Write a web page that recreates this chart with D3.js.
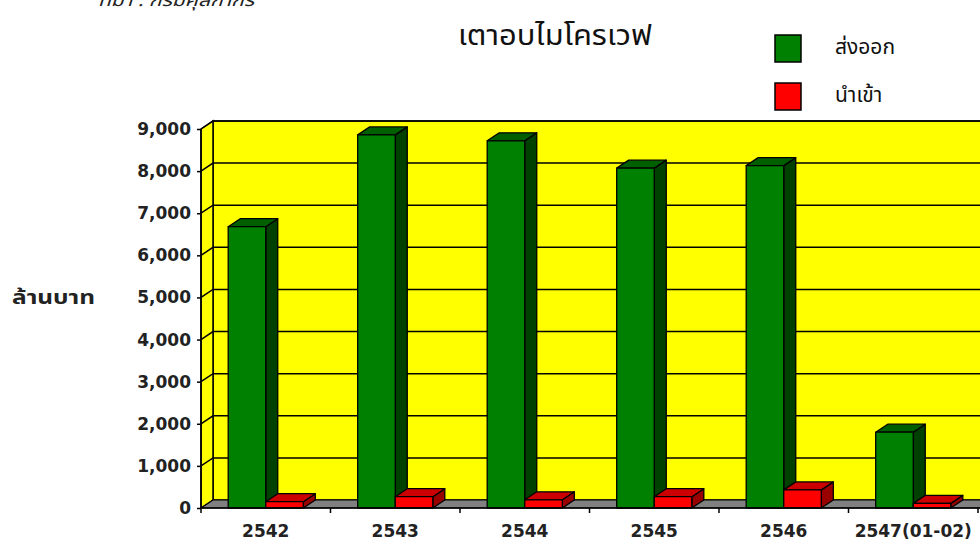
<!DOCTYPE html>
<html>
<head>
    <meta charset="UTF-8">
    <title>เตาอบไมโครเวฟ</title>
    <style>
      body { margin: 0; background: #fff; }
      svg { display: block; }
      .thai { font-family: "Noto Sans Thai", "Noto Sans", "DejaVu Sans", sans-serif; }
      .num { font-family: "DejaVu Sans", Verdana, sans-serif; font-weight: bold; }
    </style>
    <script src="https://cdn.jsdelivr.net/npm/d3@7"></script>
</head>
<body>
<svg id="chart" width="980" height="540"></svg>
<script type="text/javascript">
   // data (ล้านบาท)
   var categories = ["2542", "2543", "2544", "2545", "2546", "2547(01-02)"]
   var seriesNames = ["ส่งออก", "นำเข้า"]
   var exportValues = [6680, 8860, 8720, 8070, 8130, 1800]
   var importValues = [150, 268, 195, 268, 430, 110]
   var yTicks = [0, 1000, 2000, 3000, 4000, 5000, 6000, 7000, 8000, 9000]

   // colours: front, top, side
   var faces = {
     "ส่งออก": ["#008000", "#006000", "#004000"],
     "นำเข้า": ["#ff0000", "#cc0000", "#990000"]
   }

   function draw() {
     var svg = d3.select("#chart")
     var plotLeft = 201, plotRight = 978, plotTop = 129, plotBottom = 508
     var dx = 12, dy = -8   // depth of the 3d walls and bars
     var farRight = 1000

     var y = d3.scaleLinear().domain([0, 9000]).range([plotBottom, plotTop])
     var x0 = d3.scaleBand().domain(categories).range([plotLeft, plotRight])
     var bw = x0.bandwidth()
     var x1 = d3.scaleBand().domain(seriesNames).range([bw * 0.21, bw * 0.79])

     function pts(a) { return a.map(function(p) { return p.join(",") }).join(" ") }

     // back wall
     svg.append("rect")
       .attr("x", plotLeft + dx).attr("y", plotTop + dy)
       .attr("width", farRight - plotLeft).attr("height", plotBottom - plotTop)
       .attr("fill", "#ffff00").attr("stroke", "#000").attr("stroke-width", 1.5)
     // left wall
     svg.append("polygon")
       .attr("points", pts([[plotLeft, plotTop], [plotLeft + dx, plotTop + dy], [plotLeft + dx, plotBottom + dy], [plotLeft, plotBottom]]))
       .attr("fill", "#ffff00").attr("stroke", "#000").attr("stroke-width", 1.5)
     // floor
     svg.append("polygon")
       .attr("points", pts([[plotLeft, plotBottom], [plotLeft + dx, plotBottom + dy], [farRight, plotBottom + dy], [farRight, plotBottom]]))
       .attr("fill", "#808080").attr("stroke", "#000").attr("stroke-width", 1.2)

     // gridlines on both walls
     var grid = svg.append("g").attr("stroke", "#000").attr("stroke-width", 1.5).attr("fill", "none")
     yTicks.filter(function(t) { return t > 0 }).forEach(function(t) {
       grid.append("polyline")
         .attr("points", pts([[plotLeft, y(t)], [plotLeft + dx, y(t) + dy], [farRight, y(t) + dy]]))
     })

     // 3d bars
     function drawBar(g, cat, name, v) {
       var c = faces[name]
       var x = x0(cat) + x1(name), w = x1.bandwidth()
       var y0 = y(0), yv = y(v)
       g.append("polygon")   // side
         .attr("points", pts([[x + w, yv], [x + w + dx, yv + dy], [x + w + dx, y0 + dy], [x + w, y0]]))
         .attr("fill", c[2])
       g.append("polygon")   // top
         .attr("points", pts([[x, yv], [x + dx, yv + dy], [x + w + dx, yv + dy], [x + w, yv]]))
         .attr("fill", c[1])
       g.append("rect")      // front
         .attr("x", x).attr("y", yv).attr("width", w).attr("height", y0 - yv)
         .attr("fill", c[0])
     }
     var bars = svg.append("g").attr("stroke", "#000").attr("stroke-width", 1.3).attr("stroke-linejoin", "round")
     categories.forEach(function(cat, i) {
       var g = bars.append("g")
       drawBar(g, cat, seriesNames[0], exportValues[i])
       drawBar(g, cat, seriesNames[1], importValues[i])
     })

     // axes
     var yAxis = d3.axisLeft(y).tickValues(yTicks).tickFormat(d3.format(",")).tickSize(4).tickPadding(6)
     var ya = svg.append("g").attr("transform", "translate(" + plotLeft + ",0)").call(yAxis)
     ya.select(".domain").attr("stroke-width", 1.5).attr("d", "M0," + plotTop + "V" + plotBottom)
     ya.selectAll("text").attr("class", "num").attr("font-size", 17).attr("fill", "#222")
     ya.selectAll("line").attr("stroke-width", 1.5)

     var xTicks = categories.map(function(c) { return x0(c) }).concat([plotRight])
     var xa = svg.append("g")
     xa.append("line").attr("x1", plotLeft).attr("x2", farRight).attr("y1", plotBottom).attr("y2", plotBottom)
       .attr("stroke", "#000").attr("stroke-width", 1.5)
     xa.selectAll(".tk").data(xTicks).join("line")
       .attr("x1", function(d) { return d }).attr("x2", function(d) { return d })
       .attr("y1", plotBottom).attr("y2", plotBottom + 5)
       .attr("stroke", "#000").attr("stroke-width", 1.5)
     xa.selectAll("text").data(categories).join("text")
       .attr("class", "num")
       .attr("x", function(d) { return x0(d) + bw / 2 })
       .attr("y", 537)
       .attr("text-anchor", "middle")
       .attr("font-size", 17).attr("fill", "#222")
       .text(function(d) { return d })

     // titles
     svg.append("text").attr("class", "thai")
       .attr("x", 555).attr("y", 45).attr("text-anchor", "middle")
       .attr("font-size", 29).attr("fill", "#111")
       .attr("textLength", 194).attr("lengthAdjust", "spacingAndGlyphs")
       .text("เตาอบไมโครเวฟ")
     svg.append("text").attr("class", "thai")
       .attr("x", 12).attr("y", 304)
       .attr("font-size", 19).attr("font-weight", "bold").attr("fill", "#222")
       .attr("textLength", 83).attr("lengthAdjust", "spacingAndGlyphs")
       .text("ล้านบาท")
     svg.append("text").attr("class", "thai")
       .attr("x", 98).attr("y", 6)
       .attr("font-size", 17).attr("font-style", "italic").attr("fill", "#222")
       .attr("textLength", 156).attr("lengthAdjust", "spacingAndGlyphs")
       .text("ที่มา : กรมศุลกากร")

     // legend
     var legend = svg.append("g")
     seriesNames.forEach(function(name, i) {
       legend.append("rect")
         .attr("x", 775).attr("y", 35 + i * 48).attr("width", 26).attr("height", 27)
         .attr("fill", faces[name][0]).attr("stroke", "#000").attr("stroke-width", 1.5)
       legend.append("text").attr("class", "thai")
         .attr("x", 835).attr("y", 54 + i * 48)
         .attr("font-size", 21).attr("fill", "#111")
         .text(name)
     })
   }
   draw()
</script>
</body>
</html>
